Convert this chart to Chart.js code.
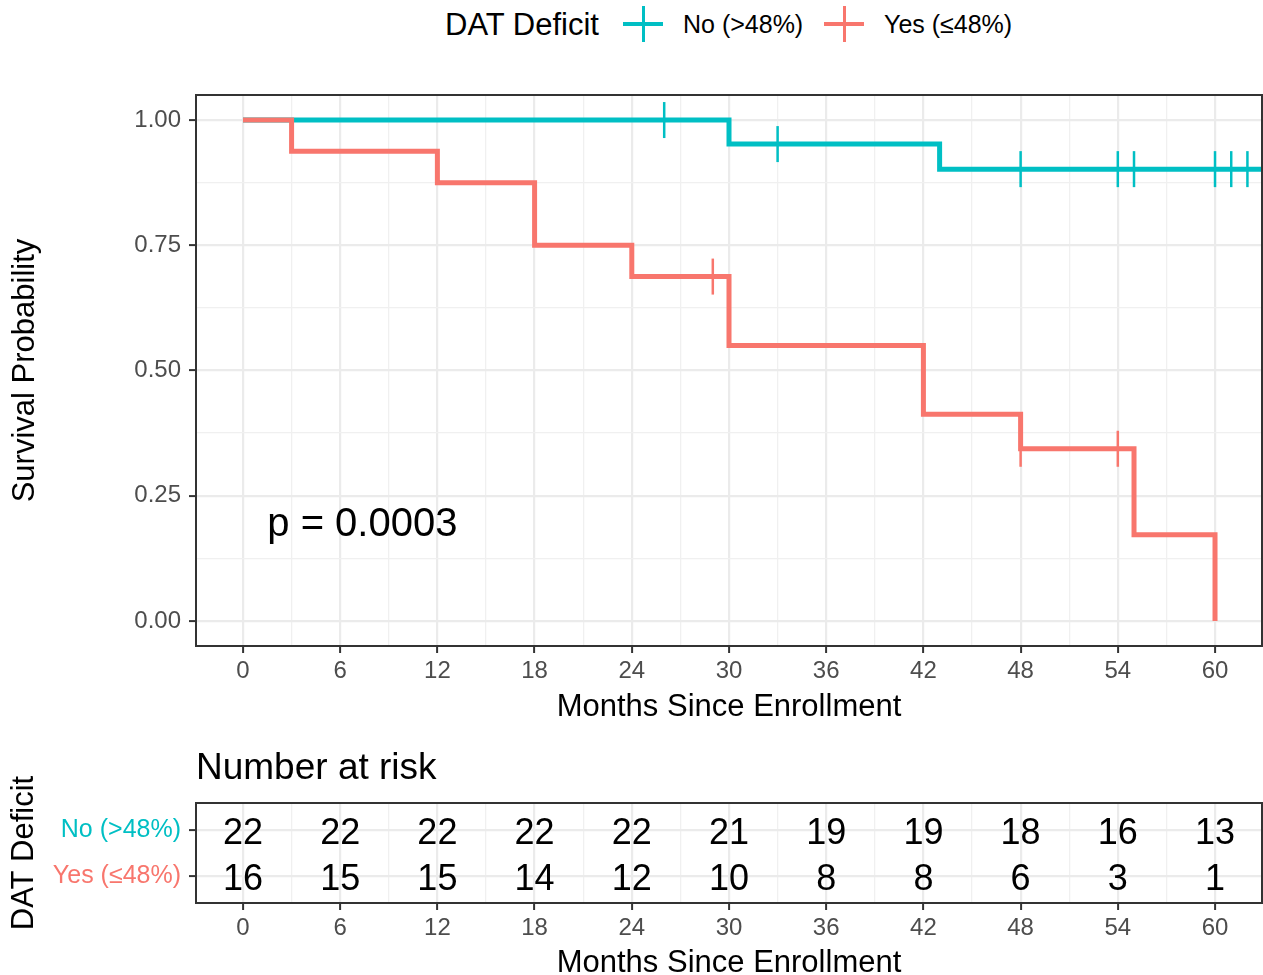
<!DOCTYPE html>
<html>
<head>
<meta charset="utf-8">
<script src="https://cdn.jsdelivr.net/npm/chart.js@4/dist/chart.umd.min.js"></script>
<style>
body { margin: 0; background: #fff; font-family: "Liberation Sans", Arial, sans-serif; }
#wrap { position: relative; width: 1263px; height: 975px; overflow: hidden; }
#wrap canvas { position: absolute; left: 0; }
.lg { position: absolute; white-space: nowrap; line-height: 1; color: #000; }
.plus { position: absolute; width: 40px; height: 36px; }
.plus::before { content: ""; position: absolute; left: 0; top: 16px; width: 40px; height: 4px; background: var(--c); }
.plus::after { content: ""; position: absolute; left: 18.5px; top: 0; width: 3px; height: 36px; background: var(--c); }
</style>
</head>
<body>
<div id="wrap">
  <div class="lg" style="left:445px;top:9px;font-size:31px;">DAT Deficit</div>
  <div class="plus" style="left:623px;top:6px;--c:#00BFC4;"></div>
  <div class="lg" style="left:683px;top:12px;font-size:25px;">No (&gt;48%)</div>
  <div class="plus" style="left:824px;top:6px;--c:#F8766D;"></div>
  <div class="lg" style="left:884px;top:12px;font-size:25px;">Yes (≤48%)</div>
  <canvas id="surv" style="top:0;"></canvas>
  <canvas id="risk" style="top:730px;"></canvas>
</div>
<script>
// survival curves (Kaplan-Meier steps)
const timesNo = [0, 30, 43, 63.5];
const survNo = [1, 0.952, 0.902, 0.902];
const timesYes = [0, 3, 12, 18, 24, 30, 42, 48, 55, 60];
const survYes = [1, 0.9375, 0.875, 0.75, 0.6875, 0.55, 0.4125, 0.34375, 0.171875, 0];

// censoring marks
const censorNoT = [26, 33, 48, 54, 55, 60, 61, 62];
const censorNoS = [1, 0.952, 0.902, 0.902, 0.902, 0.902, 0.902, 0.902];
const censorYesT = [29, 48, 54];
const censorYesS = [0.6875, 0.34375, 0.34375];

// number at risk table
const riskTimes = [0, 6, 12, 18, 24, 30, 36, 42, 48, 54, 60];
const riskNo = [22, 22, 22, 22, 22, 21, 19, 19, 18, 16, 13];
const riskYes = [16, 15, 15, 14, 12, 10, 8, 8, 6, 3, 1];

const groupLabels = ['Yes (≤48%)', 'No (>48%)'];
const pValueText = 'p = 0.0003';

const TEAL = '#00BFC4';
const RED = '#F8766D';
const FONT = "'Liberation Sans', Arial, sans-serif";

Chart.defaults.font.family = FONT;
Chart.defaults.animation = false;

function toPoints(xs, ys) {
    return xs.map((x, i) => ({ x: x, y: ys[i] }));
}

// x axis: ticks every 3 months, labels only every 6 (minor grid between)
function monthTicks(scale) {
    const t = [];
    for (let v = 0; v <= 60; v += 3) t.push({ value: v });
    scale.ticks = t;
}
const isMajorX = c => c.tick && c.tick.value % 6 === 0;

function xAxis(height, titlePad) {
    return {
        type: 'linear',
        min: -2.9,
        max: 62.9,
        afterBuildTicks: monthTicks,
        afterFit: s => { s.height = height; },
        border: { display: false },
        grid: {
            color: c => isMajorX(c) ? '#EBEBEB' : '#F0F0F0',
            lineWidth: c => isMajorX(c) ? 2.2 : 1.3,
            tickLength: 7,
            tickWidth: 2,
            tickColor: c => isMajorX(c) ? '#333333' : 'rgba(0,0,0,0)'
        },
        ticks: {
            autoSkip: false,
            maxRotation: 0,
            padding: 4,
            color: '#4D4D4D',
            font: { size: 24 },
            callback: v => v % 6 === 0 ? String(v) : ''
        },
        title: {
            display: true,
            text: 'Months Since Enrollment',
            color: '#000',
            font: { size: 31 },
            padding: { top: 0, bottom: titlePad }
        }
    };
}

// panel border drawn over everything
const panelBorder = {
    id: 'panelBorder',
    afterDatasetsDraw(chart) {
        const a = chart.chartArea, ctx = chart.ctx;
        ctx.save();
        ctx.strokeStyle = '#333333';
        ctx.lineWidth = 2;
        ctx.strokeRect(a.left, a.top, a.right - a.left, a.bottom - a.top);
        ctx.restore();
    }
};

const pValueLabel = {
    id: 'pValueLabel',
    afterDatasetsDraw(chart) {
        const ctx = chart.ctx;
        const px = chart.scales.x.getPixelForValue(1.5);
        const py = chart.scales.y.getPixelForValue(0.2);
        ctx.save();
        ctx.font = '40px ' + FONT;
        ctx.fillStyle = '#000';
        ctx.textAlign = 'left';
        ctx.textBaseline = 'alphabetic';
        ctx.fillText(pValueText, px, py + 0.358 * 40 + 1);
        ctx.restore();
    }
};

const survCanvas = document.getElementById('surv');
survCanvas.width = 1263; survCanvas.height = 730;
survCanvas.style.width = '1263px'; survCanvas.style.height = '730px';

new Chart(survCanvas, {
    type: 'scatter',
    data: {
        datasets: [
            {
                label: 'No censor', data: toPoints(censorNoT, censorNoS),
                pointStyle: 'line', pointRotation: 90, pointRadius: 18,
                pointBorderColor: TEAL, pointBorderWidth: 2.5, order: 0
            },
            {
                label: 'Yes censor', data: toPoints(censorYesT, censorYesS),
                pointStyle: 'line', pointRotation: 90, pointRadius: 18,
                pointBorderColor: RED, pointBorderWidth: 2.5, order: 0
            },
            {
                label: groupLabels[0], data: toPoints(timesYes, survYes),
                showLine: true, stepped: true, borderColor: RED, borderWidth: 5,
                borderJoinStyle: 'miter', pointRadius: 0, order: 1
            },
            {
                label: groupLabels[1], data: toPoints(timesNo, survNo),
                showLine: true, stepped: true, borderColor: TEAL, borderWidth: 5,
                borderJoinStyle: 'miter', pointRadius: 0, order: 2
            }
        ]
    },
    options: {
        responsive: false,
        layout: { autoPadding: false, padding: { top: 95, right: 1, left: 0, bottom: 0 } },
        plugins: { legend: { display: false }, tooltip: { enabled: false } },
        scales: {
            x: xAxis(84, 4.4),
            y: {
                type: 'linear',
                min: -0.05,
                max: 1.05,
                afterBuildTicks: s => {
                    const t = [];
                    for (let v = 0; v <= 1; v += 0.125) t.push({ value: v });
                    s.ticks = t;
                },
                afterFit: s => { s.width = 196; },
                border: { display: false },
                grid: {
                    color: c => c.tick && c.tick.value % 0.25 === 0 ? '#EBEBEB' : '#F0F0F0',
                    lineWidth: c => c.tick && c.tick.value % 0.25 === 0 ? 2.2 : 1.3,
                    tickLength: 7,
                    tickWidth: 2,
                    tickColor: c => c.tick && c.tick.value % 0.25 === 0 ? '#333333' : 'rgba(0,0,0,0)'
                },
                ticks: {
                    autoSkip: false,
                    padding: 8,
                    color: '#4D4D4D',
                    font: { size: 24 },
                    callback: v => v % 0.25 === 0 ? v.toFixed(2) : ''
                },
                title: {
                    display: true,
                    text: 'Survival Probability',
                    color: '#000',
                    font: { size: 31 },
                    padding: { top: 7, bottom: 0 }
                }
            }
        }
    },
    plugins: [panelBorder, pValueLabel]
});

// risk table
const riskNumbers = {
    id: 'riskNumbers',
    afterDatasetsDraw(chart) {
        const ctx = chart.ctx, xs = chart.scales.x, ys = chart.scales.y;
        ctx.save();
        ctx.font = '36px ' + FONT;
        ctx.fillStyle = '#000';
        ctx.textAlign = 'center';
        ctx.textBaseline = 'alphabetic';
        riskTimes.forEach((t, i) => {
            const px = xs.getPixelForValue(t);
            ctx.fillText(String(riskNo[i]), px, ys.getPixelForValue(2) + 0.358 * 36 + 1);
            ctx.fillText(String(riskYes[i]), px, ys.getPixelForValue(1) + 0.358 * 36 + 1);
        });
        ctx.font = '37px ' + FONT;
        ctx.textAlign = 'left';
        ctx.fillText('Number at risk', chart.chartArea.left, 49);
        ctx.restore();
    }
};

const riskCanvas = document.getElementById('risk');
riskCanvas.width = 1263; riskCanvas.height = 260;
riskCanvas.style.width = '1263px'; riskCanvas.style.height = '260px';

new Chart(riskCanvas, {
    type: 'scatter',
    data: { datasets: [] },
    options: {
        responsive: false,
        layout: { autoPadding: false, padding: { top: 73, right: 1, left: 0, bottom: 0 } },
        plugins: { legend: { display: false }, tooltip: { enabled: false } },
        scales: {
            x: xAxis(87, 8.4),
            y: {
                type: 'linear',
                min: 0.4,
                max: 2.6,
                afterBuildTicks: s => { s.ticks = [{ value: 1 }, { value: 2 }]; },
                afterFit: s => { s.width = 196; },
                border: { display: false },
                grid: {
                    color: '#EBEBEB',
                    lineWidth: 2.2,
                    tickLength: 7,
                    tickWidth: 2,
                    tickColor: '#333333'
                },
                ticks: {
                    autoSkip: false,
                    padding: 8,
                    font: { size: 25 },
                    color: c => c.tick && c.tick.value === 2 ? TEAL : RED,
                    callback: v => groupLabels[v - 1]
                },
                title: {
                    display: true,
                    text: 'DAT Deficit',
                    color: '#000',
                    font: { size: 31 },
                    padding: { top: 6, bottom: 0 }
                }
            }
        }
    },
    plugins: [panelBorder, riskNumbers]
});
</script>
</body>
</html>
